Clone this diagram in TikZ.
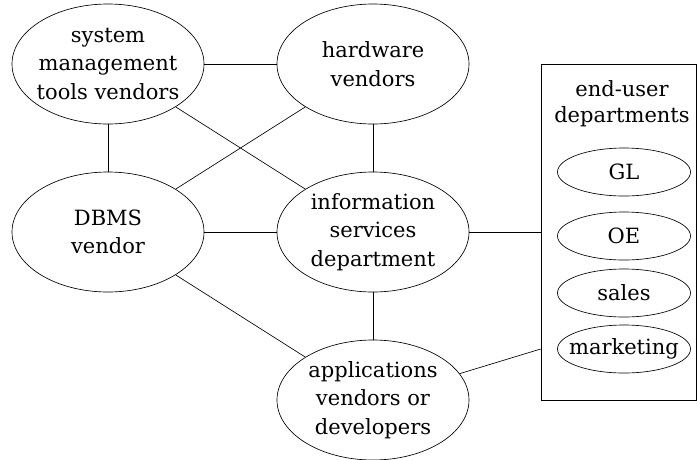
\documentclass[tikz,border=0pt]{standalone}
\usepackage{fontspec}
\setmainfont{DejaVu Serif}
\usetikzlibrary{shapes.geometric}

\begin{document}
\begin{tikzpicture}[x=1pt,y=-1pt,line width=0.65pt,
grupo/.style ={ellipse, draw, align=center, inner sep=0pt, inner xsep=-6pt, minimum width=192, minimum height=120, font=\fontsize{21}{28.5}\selectfont},
dep/.style ={ellipse, draw, align=center, inner sep=0pt, inner xsep=-9pt, minimum width=133, minimum height=48, font=\fontsize{21}{28.5}\selectfont}]

\useasboundingbox (0,0) rectangle (697,459);

\draw (108,64) node[grupo] (Sys) {system\\management\\tools vendors};
\draw (373,64) node[grupo] (Hw) {hardware\\vendors};
\draw (108,232) node[grupo] (Dbms) {DBMS\\vendor};
\draw (373,232) node[grupo] (Info) {information\\services\\department};
\draw (373,400) node[grupo] (Apps) {applications\\vendors or\\developers};

\draw (618.5,232) node[rectangle, draw, minimum width=155, minimum height=336, inner sep=0pt] (EU) {};
\draw (622,104) node[align=center, font=\fontsize{21}{26}\selectfont] (EUtit) {end-user\\departments};
\draw (624,172) node[dep] (GL) {GL};
\draw (624,236) node[dep] (OE) {OE};
\draw (624,293) node[dep] (Sales) {sales};
\draw (624,349) node[dep] (Mkt) {marketing};

\draw (Sys)--(Hw);
\draw (Sys)--(Dbms);
\draw (Sys)--(Info);
\draw (Hw)--(Dbms);
\draw (Hw)--(Info);
\draw (Dbms)--(Info);
\draw (Info)--(EU);
\draw (Info)--(Apps);
\draw (Dbms)--(Apps);
\draw (Apps)--(EU.west |- Mkt);

\end{tikzpicture}
\end{document}
